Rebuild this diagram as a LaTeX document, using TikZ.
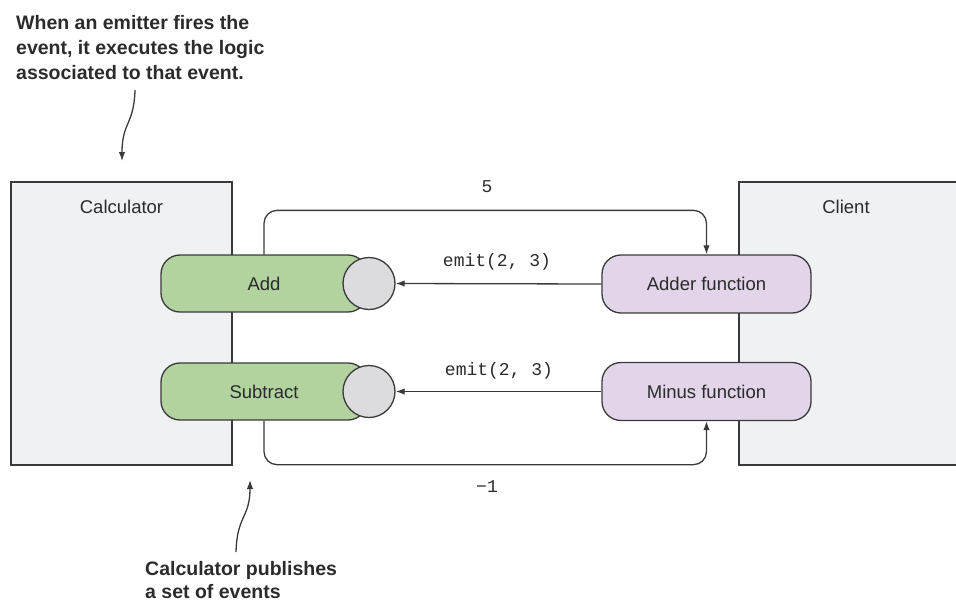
\documentclass[tikz,border=0pt]{standalone}
\usepackage{fontspec}
\setmainfont{Liberation Sans}
\newfontfamily\monofont{Liberation Mono}
\usepackage{tikz}
\usetikzlibrary{calc}
\usetikzlibrary{arrows.meta}
\definecolor{fondgris}{HTML}{F0F1F3}
\definecolor{vertevt}{HTML}{B2D3A0}
\definecolor{mauvefct}{HTML}{E2D5EA}
\definecolor{griscercle}{HTML}{DCDCDE}
\definecolor{trait}{HTML}{3A3A3A}
\definecolor{texte}{HTML}{2B2B2B}
\tikzstyle{boite}           =[draw=trait, fill=fondgris, line width=1.3pt]
\tikzstyle{evenement}       =[draw=trait, fill=vertevt, line width=1.3pt, rounded corners=19pt, minimum width=206pt, minimum height=57pt, inner sep=0pt, text=texte, font=\fontsize{18.5}{22}\selectfont]
\tikzstyle{bouton}          =[circle, draw=trait, fill=griscercle, line width=1.3pt, minimum size=52pt, inner sep=0pt]
\tikzstyle{fonction}        =[draw=trait, fill=mauvefct, line width=1.3pt, rounded corners=19pt, minimum width=209pt, minimum height=58pt, inner sep=0pt, text=texte, font=\fontsize{18.5}{22}\selectfont]
\tikzstyle{fleche}          =[draw=trait, line width=1.3pt, -{Latex[length=9pt,width=6.5pt]}]
\tikzstyle{code}            =[text=texte, font=\monofont\fontsize{18}{22}\selectfont]
\tikzstyle{remarque}        =[text=texte, anchor=north west, align=left, inner sep=0pt, font=\bfseries\fontsize{19.5}{25}\selectfont]

\begin{document}
\begin{tikzpicture}[x=1pt,y=-1pt]
\useasboundingbox (0,0) rectangle (956,603);

%%%%%%%%%%%%%%%%%%%%%%%%
%les deux grandes boites
%%%%%%%%%%%%%%%%%%%%%%%%
\fill [fondgris] (11,182) rectangle (232,465);
\draw [boite] (11,182) rectangle (232,465);
\node [text=texte, font=\fontsize{18.5}{22}\selectfont] (calc) at (121.5,207) {Calculator};

\fill [fondgris] (739,182) rectangle (956,465);
\draw [boite, fill=none] (956,182) -- (739,182) -- (739,465) -- (956,465); %le bord droit sort de l'image
\node [text=texte, font=\fontsize{18.5}{22}\selectfont] (client) at (846,207) {Client};

%%%%%%%%%%%%%%%%%%%%%%%%
%les evenements et les fonctions
%%%%%%%%%%%%%%%%%%%%%%%%
\node [evenement] (add) at (264,283.5) {Add};
\node [bouton] (addbt) at (369,283.5) {};
\node [evenement] (sub) at (264,391.5) {Subtract};
\node [bouton] (subbt) at (369,391.5) {};

\node [fonction] (adder) at (706.5,284) {Adder function};
\node [fonction] (minus) at (706.5,391.5) {Minus function};

%%%%%%%%%%%%%%%%%%%%%%%%
%les appels emit
%%%%%%%%%%%%%%%%%%%%%%%%
\draw [fleche] (adder.west) -- (addbt.east);
\node [code] (emitA) at (497,262) {emit(2, 3)};
\draw [fleche] (minus.west) -- (subbt.east);
\node [code] (emitB) at (499,371) {emit(2, 3)};

%%%%%%%%%%%%%%%%%%%%%%%%
%les retours
%%%%%%%%%%%%%%%%%%%%%%%%
\draw [fleche, rounded corners=13pt] (add.north) -- ++(0,-44) -| (adder.north);
\node [code] (cinq) at (487,187) {5};
\draw [fleche, rounded corners=13pt] (sub.south) -- ++(0,44) -| (minus.south);
\node [code] (moinsun) at (487,487) {−1};

%%%%%%%%%%%%%%%%%%%%%%%%
%les remarques
%%%%%%%%%%%%%%%%%%%%%%%%
\node [remarque] (remA) at (16,15) {When an emitter fires the\\event, it executes the logic\\associated to that event.};
\coordinate (pointeA) at (122,161);
\draw [fleche] (135,90) .. controls (134,125) and (122,122) .. (pointeA);

\node [remarque, font=\bfseries\fontsize{19.5}{23}\selectfont] (remB) at (145,561) {Calculator publishes\\a set of events};
\coordinate (pointeB) at (250,480);
\draw [fleche] (236,552) .. controls (237,515) and (250,518) .. (pointeB);

\end{tikzpicture}
\end{document}
